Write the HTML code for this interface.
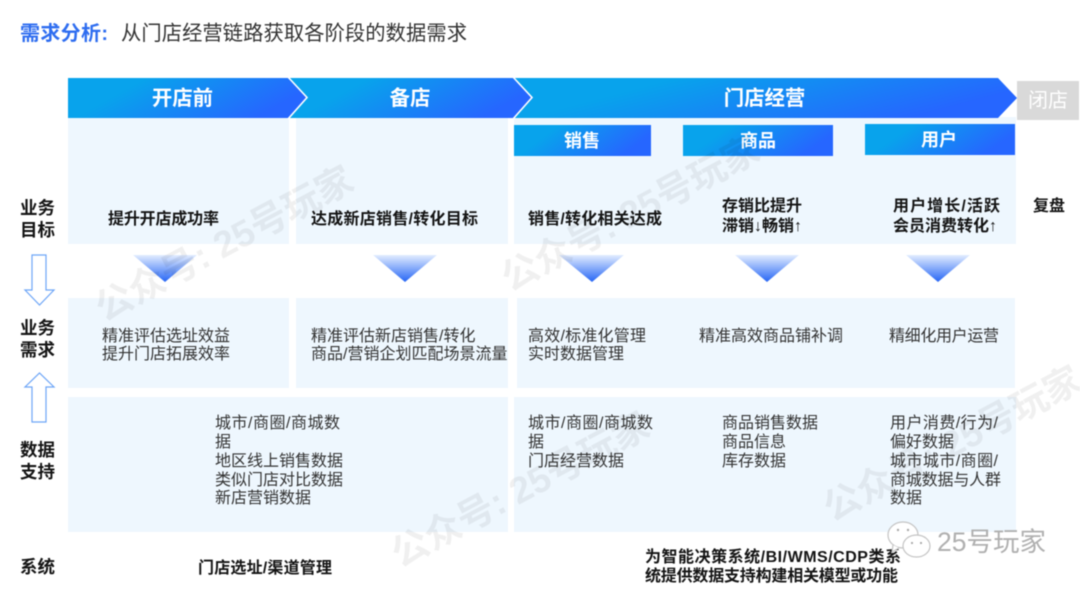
<!DOCTYPE html>
<html lang="zh"><head><meta charset="utf-8"><style>
html,body{margin:0;padding:0;background:#fff}
svg{display:block;filter:blur(.4px)}
text{font-family:"Liberation Sans","Noto Sans CJK SC",sans-serif;white-space:pre}
.b{font-size:16px;font-weight:700;fill:#141414}
.n{font-size:16px;fill:#333}
.l{font-size:17.5px;font-weight:700;fill:#141414}
.h{font-size:20.4px;font-weight:700;fill:#fff;text-anchor:middle}
.s{font-size:18px;font-weight:700;fill:#fff;text-anchor:middle}
.w{font-size:37px;font-weight:700;fill:#000;fill-opacity:.06}
</style></head><body>
<svg width="1080" height="590" viewBox="0 0 1080 590" xmlns="http://www.w3.org/2000/svg">
<defs>
<linearGradient id="g" x1="0" y1="0" x2="1" y2="0.3"><stop offset="0.3" stop-color="#08a3ec"/><stop offset="1" stop-color="#2666ff"/></linearGradient>
<linearGradient id="t" x1="0" y1="0" x2="0" y2="1"><stop offset="0" stop-color="#e2edff"/><stop offset="1" stop-color="#2666f5"/></linearGradient>
</defs>
<text x="20" y="40" font-size="20" font-weight="700" fill="#2e6df0" textLength="88">需求分析:</text>
<text x="121" y="40" font-size="20.3" fill="#333" textLength="346">从门店经营链路获取各阶段的数据需求</text>

<g fill="#eef7fe">
<rect x="68" y="118" width="221" height="126"/><rect x="296" y="118" width="212" height="126"/><rect x="514" y="117" width="502" height="127"/>
<rect x="68" y="298" width="221" height="90"/><rect x="296" y="298" width="212" height="90"/><rect x="517" y="298" width="498" height="90"/>
<rect x="68" y="397" width="440" height="135"/><rect x="514" y="397" width="502" height="135"/>
</g>

<polygon points="513,78 998,78 1017,98 998,118 513,118" fill="url(#g)"/>
<polygon points="290,78 514,78 533,98 514,118 290,118" fill="url(#g)"/>
<polygon points="68,78 288,78 307,98 288,118 68,118" fill="url(#g)"/>
<g fill="none" stroke="#fff" stroke-width="1.6">
<polyline points="288,77 307,97.5 288,119"/>
<polyline points="513,77 532,97.5 513,119"/>
</g>
<rect x="1017" y="81" width="62" height="39" fill="#d9d9d9"/>
<text class="h" x="182.5" y="105">开店前</text>
<text class="h" x="410" y="105">备店</text>
<text class="h" x="764.500" y="105">门店经营</text>
<text x="1048" y="107" font-size="20" fill="#fff" text-anchor="middle">闭店</text>

<rect x="514" y="125" width="137" height="31" fill="url(#g)"/>
<rect x="683" y="125" width="150" height="31" fill="url(#g)"/>
<rect x="865" y="124" width="150" height="31" fill="url(#g)"/>
<text class="s" x="582" y="147">销售</text>
<text class="s" x="758" y="147">商品</text>
<text class="s" x="939" y="146">用户</text>

<g fill="url(#t)">
<polygon points="133,255 197,255 165,282"/><polygon points="373,255 437,255 405,282"/><polygon points="559,255 624,255 592,282"/><polygon points="735,255 799,255 767,282"/><polygon points="906,255 970,255 938,282"/>
</g>

<g fill="#fff" stroke="#6ea6f7" stroke-width="1.2">
<polygon points="32,255 46,255 46,290 54,290 39.5,305 25,290 32,290"/>
<polygon points="32,422 46,422 46,387 54,387 39.5,373 25,387 32,387"/>
</g>

<text class="l" x="20" y="214">业务</text><text class="l" x="20" y="236">目标</text>
<text class="l" x="20" y="334">业务</text><text class="l" x="20" y="356">需求</text>
<text class="l" x="20" y="456">数据</text><text class="l" x="20" y="478">支持</text>
<text class="l" x="20" y="573">系统</text>

<text class="b" x="108" y="224" textLength="111">提升开店成功率</text>
<text class="b" x="311" y="224" textLength="167">达成新店销售/转化目标</text>
<text class="b" x="528" y="224" textLength="134">销售/转化相关达成</text>
<text class="b" x="722" y="211">存销比提升</text>
<text class="b" x="722" y="231">滞销↓畅销↑</text>
<text class="b" x="893" y="211" textLength="107">用户增长/活跃</text>
<text class="b" x="893" y="231">会员消费转化↑</text>
<text class="b" x="1033" y="211">复盘</text>

<text class="n" x="102" y="341">精准评估选址效益</text>
<text class="n" x="102" y="359">提升门店拓展效率</text>
<text class="n" x="311" y="341">精准评估新店销售/转化</text>
<text class="n" x="311" y="359">商品/营销企划匹配场景流量</text>
<text class="n" x="528" y="341" textLength="118">高效/标准化管理</text>
<text class="n" x="528" y="359">实时数据管理</text>
<text class="n" x="699" y="341">精准高效商品铺补调</text>
<text class="n" x="889" y="341" textLength="110">精细化用户运营</text>

<text class="n" x="215" y="428" textLength="125">城市/商圈/商城数</text>
<text class="n" x="215" y="447">据</text>
<text class="n" x="215" y="466">地区线上销售数据</text>
<text class="n" x="215" y="485">类似门店对比数据</text>
<text class="n" x="215" y="503">新店营销数据</text>

<text class="n" x="528" y="428" textLength="125">城市/商圈/商城数</text>
<text class="n" x="528" y="447">据</text>
<text class="n" x="528" y="466">门店经营数据</text>

<text class="n" x="722" y="428">商品销售数据</text>
<text class="n" x="722" y="447">商品信息</text>
<text class="n" x="722" y="466">库存数据</text>

<text class="n" x="890" y="428" textLength="108">用户消费/行为/</text>
<text class="n" x="890" y="447">偏好数据</text>
<text class="n" x="890" y="466" textLength="108">城市城市/商圈/</text>
<text class="n" x="890" y="485" textLength="111">商城数据与人群</text>
<text class="n" x="890" y="503">数据</text>

<text class="b" x="198" y="573" textLength="134">门店选址/渠道管理</text>
<text class="b" x="645" y="562" textLength="256">为智能决策系统/BI/WMS/CDP类系</text>
<text class="b" x="645" y="581" textLength="253">统提供数据支持构建相关模型或功能</text>

<g>
<text class="w" transform="translate(104,322) rotate(-28)">公众号: 25号玩家</text>
<text class="w" transform="translate(510,292) rotate(-28)">公众号: 25号玩家</text>
<text class="w" transform="translate(400,568) rotate(-28)">公众号: 25号玩家</text>
<text class="w" transform="translate(832,522) rotate(-28)">公众号: 25号玩家</text>
</g>

<g fill="#fff" stroke="#c4c4c4" stroke-width="1.2">
<ellipse cx="903" cy="535" rx="15" ry="13"/>
<path d="M893 545 L892 552 L899 548"/>
<ellipse cx="916.500" cy="546" rx="13.500" ry="11"/>
</g>
<g fill="#aaa"><circle cx="898" cy="530" r="1.2"/><circle cx="908" cy="530" r="1.2"/><circle cx="912" cy="543" r="1.1"/><circle cx="921" cy="543" r="1.1"/></g>
<text x="937" y="551" font-size="26.500" fill="#b0b0b0">25号玩家</text>
</svg>
</body></html>
